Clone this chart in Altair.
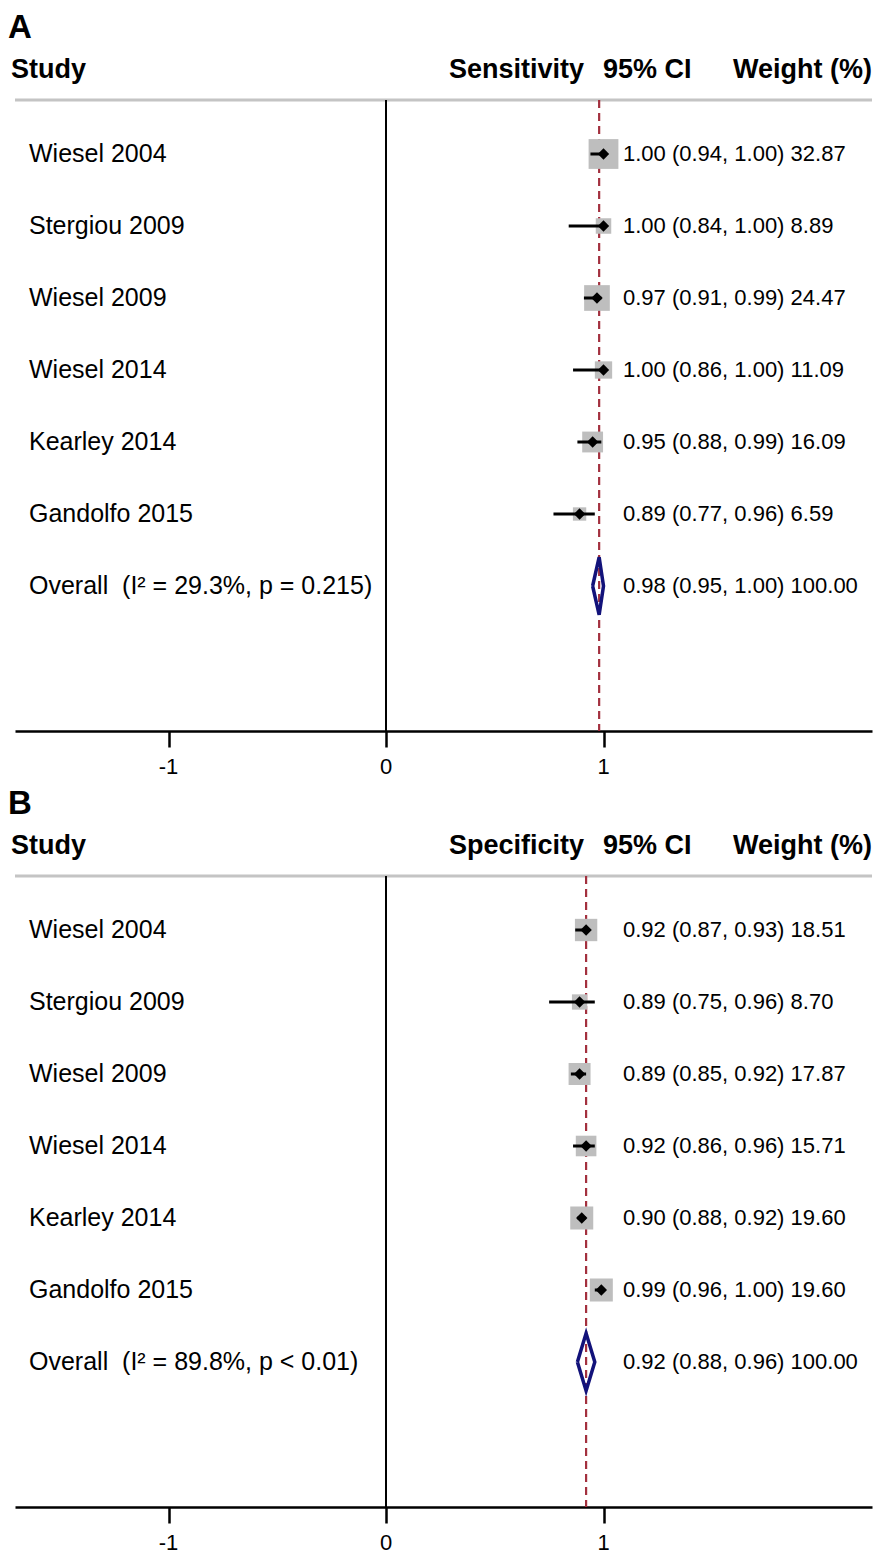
import altair as alt
import pandas as pd

# ---------------- data ----------------
studies = ["Wiesel 2004", "Stergiou 2009", "Wiesel 2009", "Wiesel 2014", "Kearley 2014", "Gandolfo 2015"]

sens_est = [1.00, 1.00, 0.97, 1.00, 0.95, 0.89]
sens_lo = [0.94, 0.84, 0.91, 0.86, 0.88, 0.77]
sens_hi = [1.00, 1.00, 0.99, 1.00, 0.99, 0.96]
sens_wt = [32.87, 8.89, 24.47, 11.09, 16.09, 6.59]
sens_overall = [0.98, 0.95, 1.00]
sens_overall_wt = 100.00
sens_het = "Overall\u00a0\u00a0(I² = 29.3%, p = 0.215)"

spec_est = [0.92, 0.89, 0.89, 0.92, 0.90, 0.99]
spec_lo = [0.87, 0.75, 0.85, 0.86, 0.88, 0.96]
spec_hi = [0.93, 0.96, 0.92, 0.96, 0.92, 1.00]
spec_wt = [18.51, 8.70, 17.87, 15.71, 19.60, 19.60]
spec_overall = [0.92, 0.88, 0.96]
spec_overall_wt = 100.00
spec_het = "Overall\u00a0\u00a0(I² = 89.8%, p < 0.01)"

null_value = [0]
x_ticks = [-1, 0, 1]

# ---------------- layout ----------------
W = 857
H = 631
PX_PER_UNIT = 217.5
X0 = 371
x_domain = [-X0 / PX_PER_UNIT, (W - X0) / PX_PER_UNIT]
ROW_PX = 72
FIRST_ROW = 54
y_domain = [-FIRST_ROW / ROW_PX, (H - FIRST_ROW) / ROW_PX]

FONT = "Liberation Sans"
GRAY_BOX = "#BEBEBE"
GRAY_LINE = "#C4C4C4"
RED = "#A3303E"
NAVY = "#12127A"
TICK_FONT = 22

xscale = alt.Scale(domain=x_domain, nice=False, zero=False)
yscale = alt.Scale(domain=y_domain, nice=False, zero=False, reverse=True)
xaxis = alt.Axis(values=x_ticks, title=None, grid=False, domainColor="black",
                 domainWidth=2.5, tickColor="black", tickWidth=2.5, tickSize=16,
                 labels=False)


def X(f):
    return alt.X(f, type="quantitative", scale=xscale, axis=xaxis)


def Y(f):
    return alt.Y(f, type="quantitative", scale=yscale, axis=None)


def header(text, x, align, size, y, baseline="middle"):
    return alt.Chart(pd.DataFrame({"t": [text]})).mark_text(
        align=align, baseline=baseline, font=FONT, fontSize=size,
        fontWeight="bold", color="black"
    ).encode(x=alt.value(x), y=alt.value(y), text="t:N")


def panel(letter, measure, est, lo, hi, wt, overall, overall_wt, het):
    n = len(studies)
    df = pd.DataFrame({"study": studies, "row": list(range(n)), "est": est,
                       "lo": lo, "hi": hi, "wt": wt})
    df["label"] = [f"{e:.2f} ({l:.2f}, {h:.2f}) {w:.2f}" for e, l, h, w in zip(est, lo, hi, wt)]
    ov = pd.DataFrame({"study": [het], "row": [n],
                       "label": [f"{overall[0]:.2f} ({overall[1]:.2f}, {overall[2]:.2f}) {overall_wt:.2f}"]})
    labels = pd.concat([df[["study", "row", "label"]], ov], ignore_index=True)
    e, l, h = overall
    dia = pd.DataFrame({"x": [l, e, h, e, l],
                        "y": [n, n - 0.4, n, n + 0.4, n],
                        "o": [0, 1, 2, 3, 4]})
    ticks = pd.DataFrame({"t": x_ticks, "lab": [str(t) for t in x_ticks]})

    top_rule = alt.Chart(pd.DataFrame({"a": [0]})).mark_rule(
        color=GRAY_LINE, strokeWidth=3).encode(x=alt.value(0), x2=alt.value(W), y=alt.value(0))
    zero_rule = alt.Chart(pd.DataFrame({"x": null_value})).mark_rule(
        color="black", strokeWidth=2).encode(x=X("x"))
    ov_rule = alt.Chart(pd.DataFrame({"x": [e]})).mark_rule(
        color=RED, strokeWidth=2.2, strokeDash=[8, 5]).encode(x=X("x"))
    boxes = alt.Chart(df).mark_point(shape="square", filled=True, color=GRAY_BOX, opacity=1).encode(
        x=X("est"), y=Y("row"),
        size=alt.Size("wt:Q", scale=alt.Scale(domain=[0, 100], range=[0, 2700]), legend=None))
    ci = alt.Chart(df).mark_rule(color="black", strokeWidth=3).encode(
        x=X("lo"), x2="hi", y=Y("row"))
    pts = alt.Chart(df).mark_point(shape="diamond", filled=True, color="black", size=130, opacity=1).encode(
        x=X("est"), y=Y("row"))
    diamond = alt.Chart(dia).mark_line(color=NAVY, strokeWidth=3.5, strokeJoin="miter").encode(
        x=X("x"), y=Y("y"), order="o:Q")
    study_txt = alt.Chart(labels).mark_text(
        align="left", baseline="middle", font=FONT, fontSize=25, color="black").encode(
        x=alt.value(14), y=Y("row"), text="study:N")
    val_txt = alt.Chart(labels).mark_text(
        align="left", baseline="middle", font=FONT, fontSize=22, color="black").encode(
        x=alt.value(608), y=Y("row"), text="label:N")
    tick_txt = alt.Chart(ticks).mark_text(
        align="center", baseline="middle", font=FONT, fontSize=TICK_FONT, color="black").encode(
        x=X("t"), y=alt.value(H + 36), text="lab:N")

    layers = [top_rule, zero_rule, ov_rule, boxes, ci, pts, diamond, study_txt, val_txt, tick_txt,
              header("Study", -4, "left", 27, -30),
              header(measure, 434, "left", 27, -30),
              header("95% CI", 588, "left", 27, -30),
              header("Weight (%)", W, "right", 27, -30),
              header(letter, -7, "left", 33, -62, baseline="alphabetic")]
    return alt.layer(*layers).properties(width=W, height=H)


pA = panel("A", "Sensitivity", sens_est, sens_lo, sens_hi, sens_wt, sens_overall, sens_overall_wt, sens_het)
pB = panel("B", "Specificity", spec_est, spec_lo, spec_hi, spec_wt, spec_overall, spec_overall_wt, spec_het)

chart = (
    alt.vconcat(pA, pB, spacing=10)
    .properties(padding={"top": 4, "left": 0, "right": 0, "bottom": 0})
    .configure_view(stroke=None)
)

chart.save("out.html", embed_options={"renderer": "svg", "actions": False})
